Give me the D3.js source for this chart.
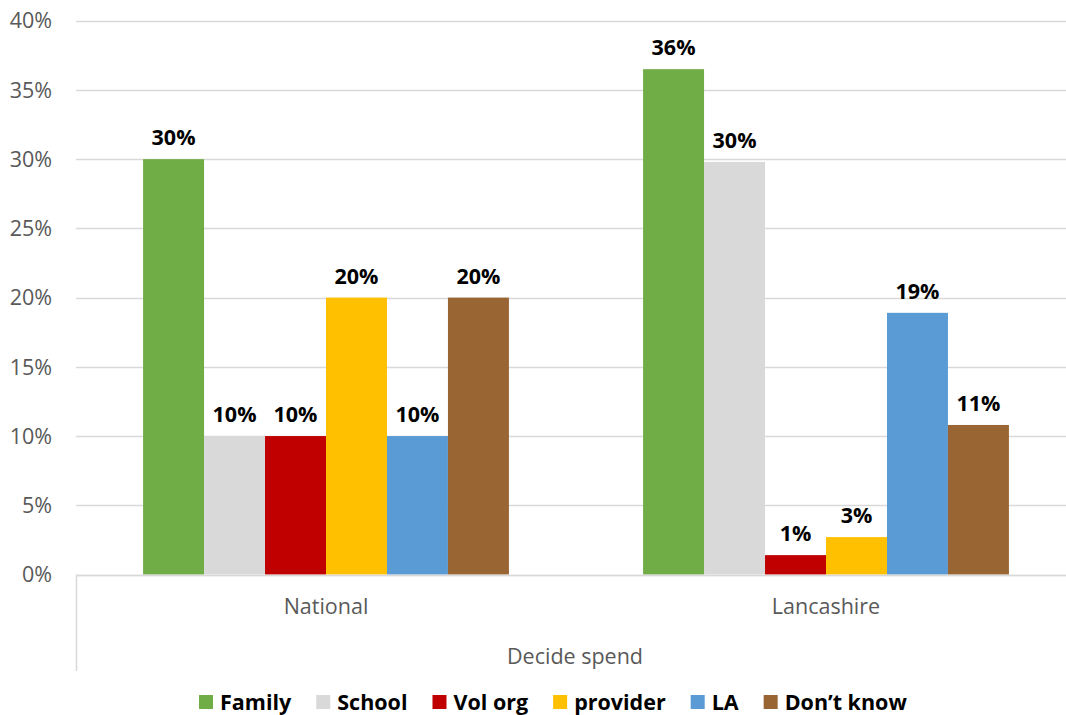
<!DOCTYPE html>
<html><head><meta charset="utf-8">
<script src="https://cdn.jsdelivr.net/npm/d3@7"></script>
<style>body{margin:0;background:#fff}svg{display:block}</style>
</head><body>
<svg id="c" width="1066" height="715"></svg>
<script>
const categories = ["National", "Lancashire"];
const groupTitle = "Decide spend";
const series = ["Family", "School", "Vol org", "provider", "LA", "Don\u2019t know"];
const colors = ["#70AD47", "#D9D9D9", "#C00000", "#FFC000", "#5B9BD5", "#996633"];
const nationalValues = [30, 10, 10, 20, 10, 20];
const lancashireValues = [36.5, 29.8, 1.4, 2.7, 18.9, 10.8];
const valueLabelsNational = ["30%", "10%", "10%", "20%", "10%", "20%"];
const valueLabelsLancashire = ["36%", "30%", "1%", "3%", "19%", "11%"];
const yTicks = [0, 5, 10, 15, 20, 25, 30, 35, 40];

(function () {
const values = [nationalValues, lancashireValues];
const labels = [valueLabelsNational, valueLabelsLancashire];
const font = "'Open Sans', 'Liberation Sans', sans-serif";

const svg = d3.select("#c");
const mLeft = 76, mRight = 1076, mTop = 20.7, mBottom = 574.5;

const y = d3.scaleLinear().domain([0, 40]).range([mBottom, mTop]);
const x0 = d3.scaleBand().domain(categories).range([mLeft, mRight]);
const x1 = d3.scaleBand().domain(series).range([0, x0.bandwidth()]).paddingOuter(1.1);
const color = d3.scaleOrdinal().domain(series).range(colors);

// gridlines
svg.append("g").selectAll("line").data(yTicks).join("line")
  .attr("x1", mLeft).attr("x2", 1066)
  .attr("y1", d => Math.round(y(d)) + 0.5).attr("y2", d => Math.round(y(d)) + 0.5)
  .attr("stroke", "#D9D9D9").attr("stroke-width", 1.5);

// y tick labels
svg.append("g").selectAll("text").data(yTicks).join("text")
  .attr("x", 52).attr("y", d => y(d)).attr("dy", "0.36em")
  .attr("text-anchor", "end").attr("font-family", font).attr("font-size", 21.5)
  .attr("fill", "#595959").text(d => d + "%");

// bars
const rows = (c, i) => series.map((s, j) => ({s, v: values[i][j], l: labels[i][j]}));
const groups = svg.append("g").selectAll("g").data(categories).join("g")
  .attr("transform", d => `translate(${x0(d)},0)`);
groups.selectAll("rect").data(rows).join("rect")
  .attr("x", d => x1(d.s)).attr("width", x1.bandwidth())
  .attr("y", d => y(d.v)).attr("height", d => y(0) - y(d.v))
  .attr("fill", d => color(d.s));
groups.selectAll("text").data(rows).join("text")
  .attr("x", d => x1(d.s) + x1.bandwidth() / 2).attr("y", d => y(d.v) - 14)
  .attr("text-anchor", "middle").attr("font-family", font).attr("font-weight", "bold")
  .attr("font-size", 21.5).attr("fill", "#000").text(d => d.l);

// x axis lines
svg.append("line").attr("x1", mLeft).attr("x2", 1066)
  .attr("y1", Math.round(y(0)) + 0.5).attr("y2", Math.round(y(0)) + 0.5)
  .attr("stroke", "#D9D9D9").attr("stroke-width", 1.5);
svg.append("line").attr("x1", mLeft + 0.5).attr("x2", mLeft + 0.5)
  .attr("y1", y(0)).attr("y2", 671)
  .attr("stroke", "#D9D9D9").attr("stroke-width", 1.5);

// category labels
svg.append("g").selectAll("text").data(categories).join("text")
  .attr("x", d => x0(d) + x0.bandwidth() / 2).attr("y", 606).attr("dy", "0.36em")
  .attr("text-anchor", "middle").attr("font-family", font).attr("font-size", 21.5)
  .attr("fill", "#595959").text(d => d);
svg.append("text").attr("x", 575).attr("y", 656).attr("dy", "0.36em")
  .attr("text-anchor", "middle").attr("font-family", font).attr("font-size", 21.5)
  .attr("fill", "#595959").text(groupTitle);

// legend
const legend = svg.append("g");
let lx = 199;
series.forEach((s) => {
  const g = legend.append("g");
  g.append("rect").attr("x", lx).attr("y", 695).attr("width", 14).attr("height", 14).attr("fill", color(s));
  const t = g.append("text").attr("x", lx + 21).attr("y", 702).attr("dy", "0.36em")
    .attr("font-family", font).attr("font-weight", "bold").attr("font-size", 21.5)
    .attr("fill", "#000").text(s);
  lx += 21 + t.node().getComputedTextLength() + 25;
});
})();
</script>
</body></html>
